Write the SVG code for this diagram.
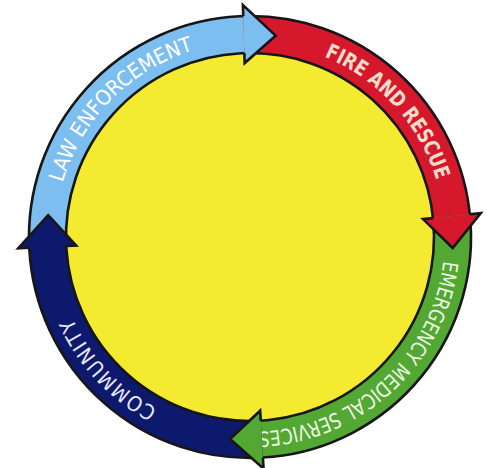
<svg xmlns="http://www.w3.org/2000/svg" width="487" height="468" viewBox="0 0 487 468">
<style>
.band{fill:none;stroke-width:37}
.edge{fill:none;stroke:#161616;stroke-width:2.6}
.hline{fill:none;stroke:#161616;stroke-width:2.6;stroke-linejoin:miter}
.lbl{font-family:"Liberation Sans Narrow","DejaVu Sans Condensed","Liberation Sans",Arial,sans-serif;font-size:21px}
</style>
<defs>
<path id="textRing" d="M 250 42 A 195 195 0 1 1 250 432 A 195 195 0 1 1 250 42"/>
<path id="head" d="M -18.2 -231.29 L 15.93 -202.37 L -13.65 -173.46 Z"/>
<path id="headEdge" d="M -17.34 -220.32 L -18.2 -231.29 L 15.93 -202.37 L -13.65 -173.46 L -14.44 -183.43"/>
</defs>
<rect width="487" height="468" fill="#ffffff"/>
<g id="hub">
<circle cx="250" cy="237" r="184" fill="#f4ea2f"/>
</g>
<g id="node-law-enforcement">
<g transform="rotate(177.2 250 237)">
<circle class="band" cx="250" cy="237" r="202.5" stroke="#7dbef0" stroke-dasharray="325.34 2000"/>
<circle class="edge" cx="250" cy="237" r="184" stroke-dasharray="295.61 2000"/>
<circle class="edge" cx="250" cy="237" r="221" stroke-dasharray="355.05 2000"/>
</g>
<text class="lbl" fill="#ffffff"><textPath href="#textRing" startOffset="973.4" textLength="194" lengthAdjust="spacingAndGlyphs">LAW ENFORCEMENT</textPath></text>
</g>
<g id="node-fire-and-rescue">
<g transform="rotate(-91.75 250 237)">
<circle class="band" cx="250" cy="237" r="202.5" stroke="#d6182c" stroke-dasharray="306.96 2000"/>
<circle class="edge" cx="250" cy="237" r="184" stroke-dasharray="278.91 2000"/>
<circle class="edge" cx="250" cy="237" r="221" stroke-dasharray="334.99 2000"/>
</g>
<text class="lbl" fill="#f8dcc8" font-weight="bold"><textPath href="#textRing" startOffset="76.2" textLength="172.2" lengthAdjust="spacingAndGlyphs">FIRE AND RESCUE</textPath></text>
</g>
<g id="node-emergency-medical-services">
<g transform="rotate(-5.9 250 237)">
<circle class="band" cx="250" cy="237" r="202.5" stroke="#52a832" stroke-dasharray="330.64 2000"/>
<circle class="edge" cx="250" cy="237" r="184" stroke-dasharray="300.43 2000"/>
<circle class="edge" cx="250" cy="237" r="221" stroke-dasharray="360.84 2000"/>
</g>
<text class="lbl" fill="#eef6e4"><textPath href="#textRing" startOffset="330.1" textLength="274" lengthAdjust="spacingAndGlyphs">EMERGENCY MEDICAL SERVICES</textPath></text>
</g>
<g id="node-community">
<g transform="rotate(86.65 250 237)">
<circle class="band" cx="250" cy="237" r="202.5" stroke="#0c196c" stroke-dasharray="323.57 2000"/>
<circle class="edge" cx="250" cy="237" r="184" stroke-dasharray="294.01 2000"/>
<circle class="edge" cx="250" cy="237" r="221" stroke-dasharray="353.13 2000"/>
</g>
<text class="lbl" fill="#e8eaf4" font-size="19"><textPath href="#textRing" startOffset="708.9" textLength="126.3" lengthAdjust="spacing">COMMUNITY</textPath></text>
</g>
<g id="connectors">
<g transform="translate(250 237) rotate(2.75)"><use href="#head" fill="#7dbef0"/><use href="#headEdge" class="hline"/></g>
<g transform="translate(250 237) rotate(88.6)"><use href="#head" fill="#d6182c"/><use href="#headEdge" class="hline"/></g>
<g transform="translate(250 237) rotate(181.15)"><use href="#head" fill="#52a832"/><use href="#headEdge" class="hline"/></g>
<g transform="translate(250 237) rotate(271.7)"><use href="#head" fill="#0c196c"/><use href="#headEdge" class="hline"/></g>
</g>
</svg>
